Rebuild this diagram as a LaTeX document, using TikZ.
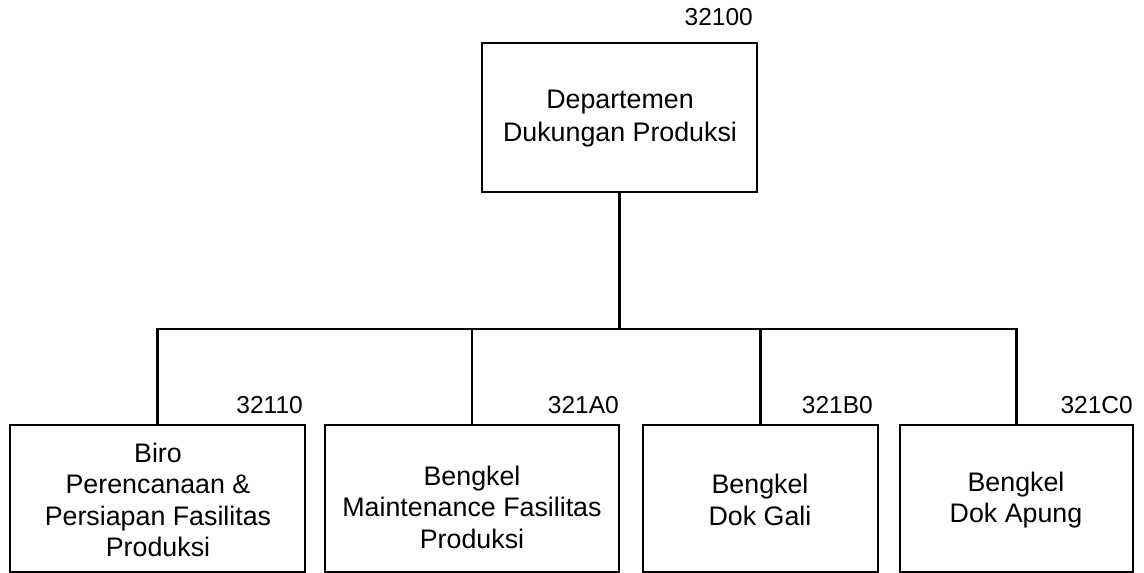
\documentclass[tikz,border=0pt]{standalone}
\usepackage{fontspec}
\setmainfont{Liberation Sans}
\begin{document}
\begin{tikzpicture}[x=1pt,y=-1pt,
  orgbox/.style={draw=black, line width=2.4pt, rectangle, inner sep=0pt, outer sep=0pt},
  boxtext/.style={align=center, inner sep=0pt, font=\fontsize{26.8}{31.5}\selectfont},
  toptext/.style={align=center, inner sep=0pt, font=\fontsize{26.8}{33}\selectfont},
  codelab/.style={anchor=east, inner sep=0pt, font=\fontsize{24.5}{28}\selectfont},
  conn/.style={draw=black, line width=2.2pt}]
\useasboundingbox (0,0) rectangle (1144,573);
% top box
\node[orgbox, minimum width=275pt, minimum height=149pt] (T) at (619.5,117.5) {};
\node[toptext] (tT) at (620,118.5) {Departemen\\Dukungan Produksi};
\node[codelab] (lT) at (753,17) {32100};
% bottom boxes
\node[orgbox, minimum width=295pt, minimum height=147pt] (b1) at (157.5,498.5) {};
\node[orgbox, minimum width=294pt, minimum height=147pt] (b2) at (472,498.5) {};
\node[orgbox, minimum width=235pt, minimum height=147pt] (b3) at (760.5,498.5) {};
\node[orgbox, minimum width=233pt, minimum height=147pt] (b4) at (1016.5,498.5) {};
\node[boxtext] (t1) at (158,500) {Biro\\Perencanaan \&\\Persiapan Fasilitas\\Produksi};
\node[boxtext] (t2) at (472,507) {Bengkel\\Maintenance Fasilitas\\Produksi};
\node[boxtext] (t3) at (760,500) {Bengkel\\Dok Gali};
\node[boxtext] (t4) at (1016,500) {Bengkel\\Dok Apung};
\node[codelab] (l1) at (303,405) {32110};
\node[codelab] (l2) at (619,405) {321A0};
\node[codelab] (l3) at (873,405) {321B0};
\node[codelab] (l4) at (1133,405) {321C0};
% connectors
\coordinate (bar) at (619.5,329);
\draw[conn] (T.south) -- (T.south |- bar);
\draw[conn, line cap=rect] (b1.north |- bar) -- (b4.north |- bar);
\draw[conn] (b1.north) -- (b1.north |- bar);
\draw[conn] (b2.north) -- (b2.north |- bar);
\draw[conn] (b3.north) -- (b3.north |- bar);
\draw[conn] (b4.north) -- (b4.north |- bar);
\end{tikzpicture}
\end{document}
